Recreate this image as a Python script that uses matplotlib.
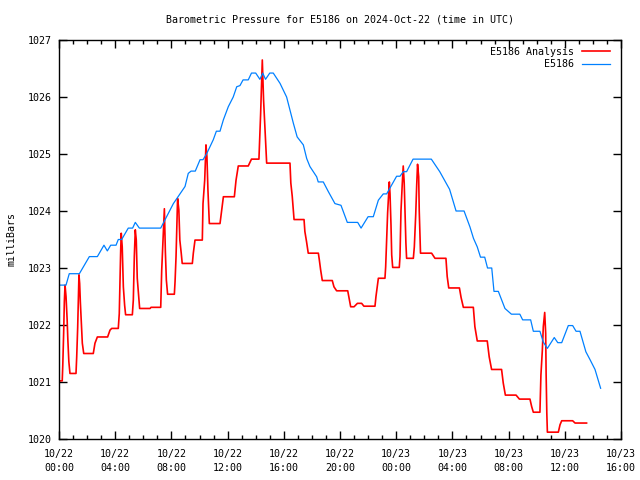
import datetime as dt

import matplotlib
matplotlib.use("Agg")
from matplotlib import pyplot as plt
import matplotlib.dates as mdates
from matplotlib.ticker import MultipleLocator


# hours since 2024-10-22 00:00 UTC
obs_hours = [
    0, 0.5, 0.73, 1.45, 2.16, 2.73, 3.2, 3.44, 3.68, 4.06, 4.22, 4.46, 4.93,
    5.24, 5.43, 5.72, 7.24, 8.14, 8.97, 9.2, 9.4, 9.7, 10.04, 10.25, 10.5,
    10.98, 11.2, 11.46, 11.7, 12.05, 12.4, 12.65, 12.88, 13.1, 13.47, 13.7,
    14.0, 14.3, 14.5, 14.7, 15.0, 15.25, 15.73, 16.2, 16.68, 16.95, 17.39,
    17.63, 17.86, 18.34, 18.45, 18.81, 19.17, 19.64, 20.07, 20.52, 21.26,
    21.5, 22.0, 22.37, 22.73, 23.08, 23.32, 24.03, 24.27, 24.5, 24.74, 25.2,
    26.5, 27.1, 27.8, 28.26, 28.83, 29.25, 29.5, 29.77, 30.0, 30.3, 30.5,
    30.8, 30.96, 31.27, 31.74, 32.2, 32.8, 33.0, 33.57, 33.76, 34.23, 34.47,
    34.76, 35.25, 35.5, 35.78, 36.25, 36.56, 36.8, 37.08, 37.5, 37.8, 38.15,
    38.55,
]
obs_mb = [
    1022.70, 1022.70, 1022.90, 1022.90, 1023.20, 1023.20, 1023.40, 1023.30,
    1023.40, 1023.40, 1023.50, 1023.50, 1023.70, 1023.70, 1023.80, 1023.70,
    1023.70, 1024.13, 1024.43, 1024.66, 1024.70, 1024.70, 1024.90, 1024.90,
    1025.00, 1025.25, 1025.40, 1025.40, 1025.60, 1025.83, 1026.00, 1026.18,
    1026.20, 1026.30, 1026.30, 1026.42, 1026.42, 1026.31, 1026.42, 1026.31,
    1026.42, 1026.42, 1026.24, 1026.00, 1025.54, 1025.30, 1025.16, 1024.92,
    1024.78, 1024.60, 1024.51, 1024.51, 1024.34, 1024.13, 1024.10, 1023.80,
    1023.80, 1023.70, 1023.90, 1023.90, 1024.19, 1024.30, 1024.30, 1024.61,
    1024.61, 1024.69, 1024.69, 1024.91, 1024.91, 1024.69, 1024.38, 1024.00,
    1024.00, 1023.72, 1023.52, 1023.37, 1023.19, 1023.19, 1023.00, 1023.00,
    1022.59, 1022.59, 1022.29, 1022.19, 1022.19, 1022.09, 1022.09, 1021.89,
    1021.89, 1021.70, 1021.59, 1021.78, 1021.69, 1021.69, 1021.99, 1021.99,
    1021.89, 1021.89, 1021.53, 1021.39, 1021.22, 1020.89,
]

ana_hours = [
    0, 0.23, 0.27, 0.33, 0.38, 0.43, 0.5, 0.58, 0.63, 0.7, 0.78, 1.21, 1.26,
    1.33, 1.42, 1.47, 1.52, 1.59, 1.66, 1.76, 2.44, 2.56, 2.73, 3.46, 3.63,
    3.75, 4.22, 4.29, 4.34, 4.39, 4.43, 4.5, 4.58, 4.67, 4.74, 5.22, 5.29,
    5.36, 5.43, 5.5, 5.57, 5.67, 5.74, 6.48, 6.55, 7.24, 7.31, 7.43, 7.5,
    7.57, 7.64, 7.73, 8.21, 8.26, 8.33, 8.44, 8.53, 8.6, 8.7, 8.77, 9.49,
    9.56, 9.68, 10.2, 10.25, 10.37, 10.46, 10.53, 10.6, 10.7, 11.46, 11.58,
    11.7, 12.48, 12.6, 12.76, 13.47, 13.7, 14.23, 14.3, 14.35, 14.47, 14.56,
    14.65, 14.78, 16.44, 16.5, 16.6, 16.73, 17.44, 17.5, 17.62, 17.74, 18.46,
    18.53, 18.62, 18.74, 19.45, 19.57, 19.76, 20.55, 20.65, 20.76, 21.0,
    21.24, 21.54, 21.7, 22.49, 22.56, 22.73, 23.2, 23.25, 23.32, 23.39,
    23.46, 23.51, 23.56, 23.63, 23.68, 23.75, 24.22, 24.27, 24.34, 24.43,
    24.5, 24.57, 24.64, 24.69, 24.74, 25.22, 25.29, 25.39, 25.46, 25.52,
    25.6, 25.64, 25.73, 26.52, 26.76, 27.54, 27.63, 27.74, 28.5, 28.62,
    28.78, 29.49, 29.6, 29.77, 30.48, 30.62, 30.79, 31.5, 31.62, 31.77,
    32.53, 32.77, 33.52, 33.64, 33.76, 34.23, 34.3, 34.4, 34.47, 34.57,
    34.64, 34.67, 34.72, 34.76, 35.54, 35.66, 35.78, 36.56, 36.73, 37.55,
]
ana_mb = [
    1021.02, 1021.02, 1021.30, 1021.85, 1022.41, 1022.70, 1022.50, 1022.09,
    1021.74, 1021.36, 1021.15, 1021.15, 1021.44, 1021.96, 1022.88, 1022.73,
    1022.40, 1022.03, 1021.68, 1021.50, 1021.50, 1021.68, 1021.79, 1021.79,
    1021.91, 1021.94, 1021.94, 1022.20, 1022.79, 1023.31, 1023.61, 1023.37,
    1022.67, 1022.35, 1022.18, 1022.18, 1022.44, 1023.20, 1023.67, 1023.49,
    1022.82, 1022.50, 1022.29, 1022.29, 1022.31, 1022.31, 1022.96, 1023.67,
    1024.04, 1023.29, 1022.79, 1022.54, 1022.54, 1022.76, 1023.20, 1024.22,
    1024.02, 1023.49, 1023.26, 1023.08, 1023.08, 1023.26, 1023.49, 1023.49,
    1024.13, 1024.54, 1025.16, 1024.95, 1024.37, 1023.78, 1023.78, 1024.02,
    1024.25, 1024.25, 1024.54, 1024.79, 1024.79, 1024.91, 1024.91, 1025.36,
    1025.70, 1026.65, 1025.95, 1025.48, 1024.84, 1024.84, 1024.49, 1024.26,
    1023.85, 1023.85, 1023.64, 1023.46, 1023.26, 1023.26, 1023.14, 1022.97,
    1022.78, 1022.78, 1022.67, 1022.60, 1022.60, 1022.47, 1022.32, 1022.32,
    1022.38, 1022.38, 1022.33, 1022.33, 1022.50, 1022.82, 1022.82, 1023.02,
    1023.50, 1023.97, 1024.29, 1024.51, 1024.30, 1023.75, 1023.23, 1023.01,
    1023.01, 1023.20, 1024.00, 1024.47, 1024.79, 1024.49, 1023.84, 1023.44,
    1023.17, 1023.17, 1023.37, 1023.94, 1024.46, 1024.82, 1024.60, 1024.00,
    1023.26, 1023.26, 1023.17, 1023.17, 1022.85, 1022.65, 1022.65, 1022.48,
    1022.31, 1022.31, 1021.97, 1021.72, 1021.72, 1021.44, 1021.22, 1021.22,
    1020.98, 1020.77, 1020.77, 1020.70, 1020.70, 1020.57, 1020.47, 1020.47,
    1021.12, 1021.55, 1021.97, 1022.22, 1021.85, 1021.15, 1020.45, 1020.12,
    1020.12, 1020.25, 1020.32, 1020.32, 1020.28, 1020.28,
]

start = dt.datetime(2024, 10, 22, 0, 0)
x_start = start
x_end = start + dt.timedelta(hours=40)
y_min, y_max = 1020, 1027

plt.rcParams["font.family"] = "DejaVu Sans Mono"
plt.rcParams["font.size"] = 7.2


def to_times(hours: list) -> list:
    return [start + dt.timedelta(hours=h) for h in hours]


fig = plt.figure(figsize=(6.4, 4.8), dpi=100)
ax = fig.add_axes([59 / 640, 1 - 439 / 480, 562 / 640, 399 / 480])

ax.plot(to_times(ana_hours), ana_mb, color="#ff0000", linewidth=1.2,
        label="E5186 Analysis")
ax.plot(to_times(obs_hours), obs_mb, color="#0080ff", linewidth=0.9,
        label="E5186")

ax.set_xlim(x_start, x_end)
ax.set_ylim(y_min, y_max)
ax.xaxis.set_major_locator(mdates.HourLocator(byhour=range(0, 24, 4)))
ax.xaxis.set_minor_locator(mdates.HourLocator())
ax.xaxis.set_major_formatter(mdates.DateFormatter("%m/%d\n%H:%M"))
ax.yaxis.set_major_locator(MultipleLocator(1))

ax.tick_params(which="both", direction="in", top=True, right=True,
               color="black", width=1, labelsize=7.2)
ax.tick_params(which="major", length=6, pad=5)
ax.tick_params(axis="x", which="major", pad=7)
ax.tick_params(which="minor", length=3)
ax.tick_params(axis="y", which="minor", length=0)
for label in ax.get_xticklabels():
    label.set_linespacing(1.5)
for spine in ax.spines.values():
    spine.set_linewidth(1)

ax.set_title("Barometric Pressure for E5186 on 2024-Oct-22 (time in UTC)",
             fontsize=7.2, pad=12.5)
ax.set_ylabel("milliBars", fontsize=7.2, labelpad=8)

ax.legend(loc="upper right", bbox_to_anchor=(0.993, 1.0), frameon=False,
          markerfirst=False, handlelength=2.8, handletextpad=0.8,
          labelspacing=0.25, borderaxespad=0.3, fontsize=7.2)

plt.savefig("out.png", dpi=100)
